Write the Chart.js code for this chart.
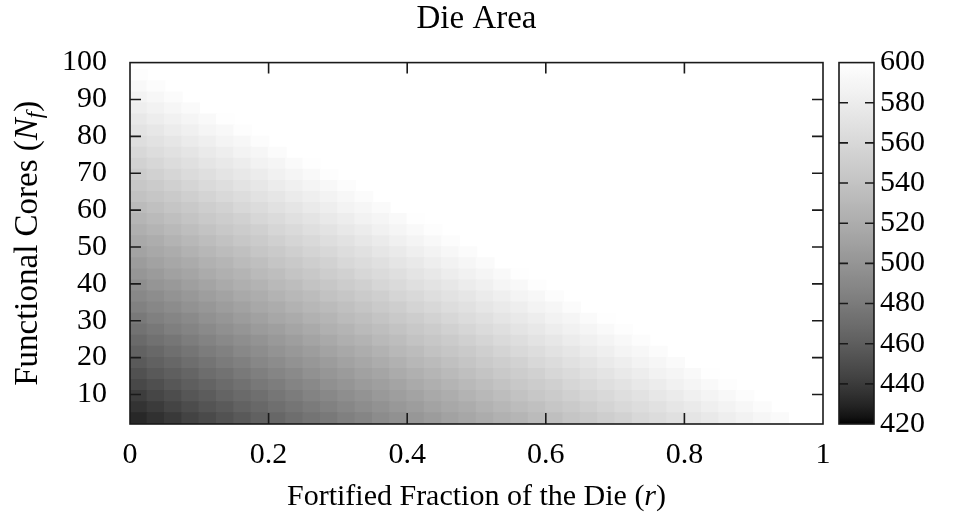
<!DOCTYPE html>
<html>
<head>
<meta charset="utf-8">
<title>Die Area</title>
<script src="https://cdn.jsdelivr.net/npm/chart.js@4.4.1/dist/chart.umd.min.js"></script>
<style>
    html, body { margin: 0; padding: 0; background: #fff; }
    #wrap { width: 953px; height: 525px; }
</style>
</head>
<body>
<div id="wrap"><canvas id="areaChart" width="953" height="525"></canvas></div>
<script>
// fortified fraction r (column centres) and functional cores N_f (row centres)
const rValues = [0.0125, 0.0375, 0.0625, 0.0875, 0.1125, 0.1375, 0.1625, 0.1875, 0.2125, 0.2375,
                 0.2625, 0.2875, 0.3125, 0.3375, 0.3625, 0.3875, 0.4125, 0.4375, 0.4625, 0.4875,
                 0.5125, 0.5375, 0.5625, 0.5875, 0.6125, 0.6375, 0.6625, 0.6875, 0.7125, 0.7375,
                 0.7625, 0.7875, 0.8125, 0.8375, 0.8625, 0.8875, 0.9125, 0.9375, 0.9625, 0.9875];
const nValues = [3.5, 6.5, 9.5, 12.5, 15.5, 18.5, 21.5, 24.5, 27.5, 30.5, 33.5,
                 36.5, 39.5, 42.5, 45.5, 48.5, 51.5, 54.5, 57.5, 60.5, 63.5, 66.5,
                 69.5, 72.5, 75.5, 78.5, 81.5, 84.5, 87.5, 90.5, 93.5, 96.5, 99.5];

// die area, one row per N_f band, read left to right;
// cells past the end of a row are at or above 600 and show as white
const areaRows = [
    [431, 435, 439, 444, 448, 453, 457, 462, 466, 471, 475, 479, 484, 488, 493, 497, 502, 506, 511, 515, 520, 524, 528, 533, 537, 542, 546, 551, 555, 560, 564, 568, 573, 577, 582, 586, 591, 595],
    [436, 440, 445, 449, 454, 458, 463, 467, 472, 476, 480, 485, 489, 494, 498, 503, 507, 512, 516, 520, 525, 529, 534, 538, 543, 547, 552, 556, 561, 565, 569, 574, 578, 583, 587, 592, 596],
    [441, 446, 450, 455, 459, 464, 468, 472, 477, 481, 486, 490, 495, 499, 504, 508, 512, 517, 521, 526, 530, 535, 539, 544, 548, 553, 557, 561, 566, 570, 575, 579, 584, 588, 593, 597],
    [447, 451, 456, 460, 464, 469, 473, 478, 482, 487, 491, 496, 500, 505, 509, 513, 518, 522, 527, 531, 536, 540, 545, 549, 553, 558, 562, 567, 571, 576, 580, 585, 589, 594, 598],
    [452, 457, 461, 465, 470, 474, 479, 483, 488, 492, 497, 501, 505, 510, 514, 519, 523, 528, 532, 537, 541, 546, 550, 554, 559, 563, 568, 572, 577, 581, 586, 590, 594, 599],
    [458, 462, 466, 471, 475, 480, 484, 489, 493, 498, 502, 506, 511, 515, 520, 524, 529, 533, 538, 542, 547, 551, 555, 560, 564, 569, 573, 578, 582, 587, 591, 595],
    [463, 467, 472, 476, 481, 485, 490, 494, 499, 503, 507, 512, 516, 521, 525, 530, 534, 539, 543, 547, 552, 556, 561, 565, 570, 574, 579, 583, 588, 592, 596],
    [468, 473, 477, 482, 486, 491, 495, 499, 504, 508, 513, 517, 522, 526, 531, 535, 540, 544, 548, 553, 557, 562, 566, 571, 575, 580, 584, 588, 593, 597],
    [474, 478, 483, 487, 492, 496, 500, 505, 509, 514, 518, 523, 527, 532, 536, 540, 545, 549, 554, 558, 563, 567, 572, 576, 581, 585, 589, 594, 598],
    [479, 484, 488, 492, 497, 501, 506, 510, 515, 519, 524, 528, 533, 537, 541, 546, 550, 555, 559, 564, 568, 573, 577, 581, 586, 590, 595, 599],
    [485, 489, 493, 498, 502, 507, 511, 516, 520, 525, 529, 533, 538, 542, 547, 551, 556, 560, 565, 569, 574, 578, 582, 587, 591, 596],
    [490, 494, 499, 503, 508, 512, 517, 521, 526, 530, 534, 539, 543, 548, 552, 557, 561, 566, 570, 574, 579, 583, 588, 592, 597],
    [495, 500, 504, 509, 513, 518, 522, 526, 531, 535, 540, 544, 549, 553, 558, 562, 567, 571, 575, 580, 584, 589, 593, 598],
    [501, 505, 510, 514, 519, 523, 527, 532, 536, 541, 545, 550, 554, 559, 563, 567, 572, 576, 581, 585, 590, 594, 599],
    [506, 511, 515, 519, 524, 528, 533, 537, 542, 546, 551, 555, 560, 564, 568, 573, 577, 582, 586, 591, 595],
    [512, 516, 520, 525, 529, 534, 538, 543, 547, 552, 556, 560, 565, 569, 574, 578, 583, 587, 592, 596],
    [517, 521, 526, 530, 535, 539, 544, 548, 553, 557, 561, 566, 570, 575, 579, 584, 588, 593, 597],
    [522, 527, 531, 536, 540, 545, 549, 553, 558, 562, 567, 571, 576, 580, 585, 589, 594, 598],
    [528, 532, 537, 541, 546, 550, 554, 559, 563, 568, 572, 577, 581, 586, 590, 594, 599],
    [533, 538, 542, 546, 551, 555, 560, 564, 569, 573, 578, 582, 587, 591, 595],
    [539, 543, 547, 552, 556, 561, 565, 570, 574, 579, 583, 587, 592, 596],
    [544, 548, 553, 557, 562, 566, 571, 575, 580, 584, 588, 593, 597],
    [549, 554, 558, 563, 567, 572, 576, 580, 585, 589, 594, 598],
    [555, 559, 564, 568, 573, 577, 581, 586, 590, 595, 599],
    [560, 565, 569, 573, 578, 582, 587, 591, 596],
    [566, 570, 574, 579, 583, 588, 592, 597],
    [571, 575, 580, 584, 589, 593, 598],
    [576, 581, 585, 590, 594, 599],
    [582, 586, 591, 595],
    [587, 592, 596],
    [593, 597],
    [598],
    []
];

const xTickValues = [0, 0.2, 0.4, 0.6, 0.8, 1];
const yTickValues = [10, 20, 30, 40, 50, 60, 70, 80, 90, 100];
const cbTickValues = [420, 440, 460, 480, 500, 520, 540, 560, 580, 600];

const CB_MIN = 420;
const CB_MAX = 600;
const CELL_H = 3;
const FONT = "'Liberation Serif', 'DejaVu Serif', serif";
const INK = '#1a1a1a';

// gnuplot style grey palette (gamma 1.5)
function greyAt(t) {
    t = Math.max(0, Math.min(1, t));
    const g = Math.round(255 * Math.pow(t, 1 / 1.5));
    return `rgb(${g},${g},${g})`;
}

function cellColor(v) {
    return greyAt((v - CB_MIN) / (CB_MAX - CB_MIN));
}

const datasets = areaRows.map((row, k) => ({
    label: 'N' + nValues[k],
    data: row.map((v, j) => ({ x: rValues[j], y: [nValues[k] - CELL_H / 2, nValues[k] + CELL_H / 2] })),
    backgroundColor: row.map(cellColor),
    borderWidth: 0,
    inflateAmount: 0.7,
    grouped: false,
    barPercentage: 1,
    categoryPercentage: 1
}));

function drawPieces(ctx, pieces, cx, cy, size) {
    let total = 0;
    pieces.forEach(p => {
        const s = p.sub ? size * 0.7 : size;
        ctx.font = (p.italic ? 'italic ' : '') + s + 'px ' + FONT;
        p.w = ctx.measureText(p.text).width;
        total += p.w;
    });
    let x = cx - total / 2;
    pieces.forEach(p => {
        const s = p.sub ? size * 0.7 : size;
        ctx.font = (p.italic ? 'italic ' : '') + s + 'px ' + FONT;
        ctx.fillText(p.text, x, cy + (p.sub ? size * 0.25 : 0));
        x += p.w;
    });
}

const framePlugin = {
    id: 'frameAndColorbar',
    afterDraw(chart) {
        const { ctx, chartArea: a, scales } = chart;
        ctx.save();
        ctx.strokeStyle = INK;
        ctx.lineWidth = 1.6;

        // inward tick marks on all four sides
        ctx.beginPath();
        xTickValues.forEach(v => {
            if (v <= 0 || v >= 1) return;
            const px = scales.x.getPixelForValue(v);
            ctx.moveTo(px, a.bottom); ctx.lineTo(px, a.bottom - 11);
            ctx.moveTo(px, a.top); ctx.lineTo(px, a.top + 11);
        });
        yTickValues.forEach(v => {
            if (v >= 100) return;
            const py = scales.y.getPixelForValue(v);
            ctx.moveTo(a.left, py); ctx.lineTo(a.left + 11, py);
            ctx.moveTo(a.right, py); ctx.lineTo(a.right - 11, py);
        });
        ctx.stroke();
        ctx.strokeRect(a.left, a.top, a.right - a.left, a.bottom - a.top);

        // colour bar
        const cbLeft = a.right + 16;
        const cbW = 35;
        const grad = ctx.createLinearGradient(0, a.bottom, 0, a.top);
        for (let i = 0; i <= 60; i++) grad.addColorStop(i / 60, greyAt(i / 60));
        ctx.fillStyle = grad;
        ctx.fillRect(cbLeft, a.top, cbW, a.bottom - a.top);
        ctx.beginPath();
        cbTickValues.forEach(v => {
            if (v <= CB_MIN || v >= CB_MAX) return;
            const py = scales.y2.getPixelForValue(v);
            ctx.moveTo(cbLeft, py); ctx.lineTo(cbLeft + 9, py);
            ctx.moveTo(cbLeft + cbW, py); ctx.lineTo(cbLeft + cbW - 9, py);
        });
        ctx.stroke();
        ctx.strokeRect(cbLeft, a.top, cbW, a.bottom - a.top);

        // axis titles
        ctx.fillStyle = '#000';
        ctx.textBaseline = 'middle';
        ctx.textAlign = 'left';
        drawPieces(ctx, [
            { text: 'Fortified Fraction of the Die (' },
            { text: 'r', italic: true },
            { text: ')' }
        ], (a.left + a.right) / 2, 497, 30);

        ctx.translate(28, (a.top + a.bottom) / 2);
        ctx.rotate(-Math.PI / 2);
        drawPieces(ctx, [
            { text: 'Functional Cores (' },
            { text: 'N', italic: true },
            { text: 'f', italic: true, sub: true },
            { text: ')' }
        ], 0, 0, 33);
        ctx.restore();
    }
};

// the side axes should not push the plot down for their label padding
function dropPadding(s) {
    s.paddingTop = 0;
    s.paddingBottom = 0;
}

const tickFont = { family: FONT, size: 30 };

new Chart(document.getElementById('areaChart'), {
    type: 'bar',
    data: { datasets: datasets },
    plugins: [framePlugin],
    options: {
        responsive: false,
        animation: false,
        layout: { padding: 0, autoPadding: false },
        plugins: {
            legend: { display: false },
            tooltip: { enabled: false },
            title: {
                display: true,
                text: 'Die Area',
                color: '#000',
                font: { family: FONT, size: 33, weight: 'normal' },
                padding: { top: 0, bottom: 23 }
            }
        },
        scales: {
            x: {
                type: 'linear',
                min: 0,
                max: 1,
                offset: false,
                grid: { display: false, drawTicks: false, offset: false },
                border: { display: false },
                afterBuildTicks: s => { s.ticks = xTickValues.map(v => ({ value: v })); },
                afterFit: s => { s.height = 101; },
                ticks: {
                    font: tickFont, color: '#000', padding: 13, maxRotation: 0, autoSkip: false,
                    callback: v => String(Number(v.toFixed(2)))
                }
            },
            y: {
                type: 'linear',
                min: 2,
                max: 100,
                grid: { display: false, drawTicks: false },
                border: { display: false },
                afterBuildTicks: s => { s.ticks = yTickValues.map(v => ({ value: v })); },
                afterFit: s => { s.width = 130; dropPadding(s); },
                ticks: { font: tickFont, color: '#000', padding: 23, autoSkip: false }
            },
            y2: {
                type: 'linear',
                position: 'right',
                min: CB_MIN,
                max: CB_MAX,
                grid: { display: false, drawTicks: false },
                border: { display: false },
                afterBuildTicks: s => { s.ticks = cbTickValues.map(v => ({ value: v })); },
                afterFit: s => { s.width = 130; dropPadding(s); },
                ticks: { font: tickFont, color: '#000', padding: 57, autoSkip: false }
            }
        }
    }
});
</script>
</body>
</html>
